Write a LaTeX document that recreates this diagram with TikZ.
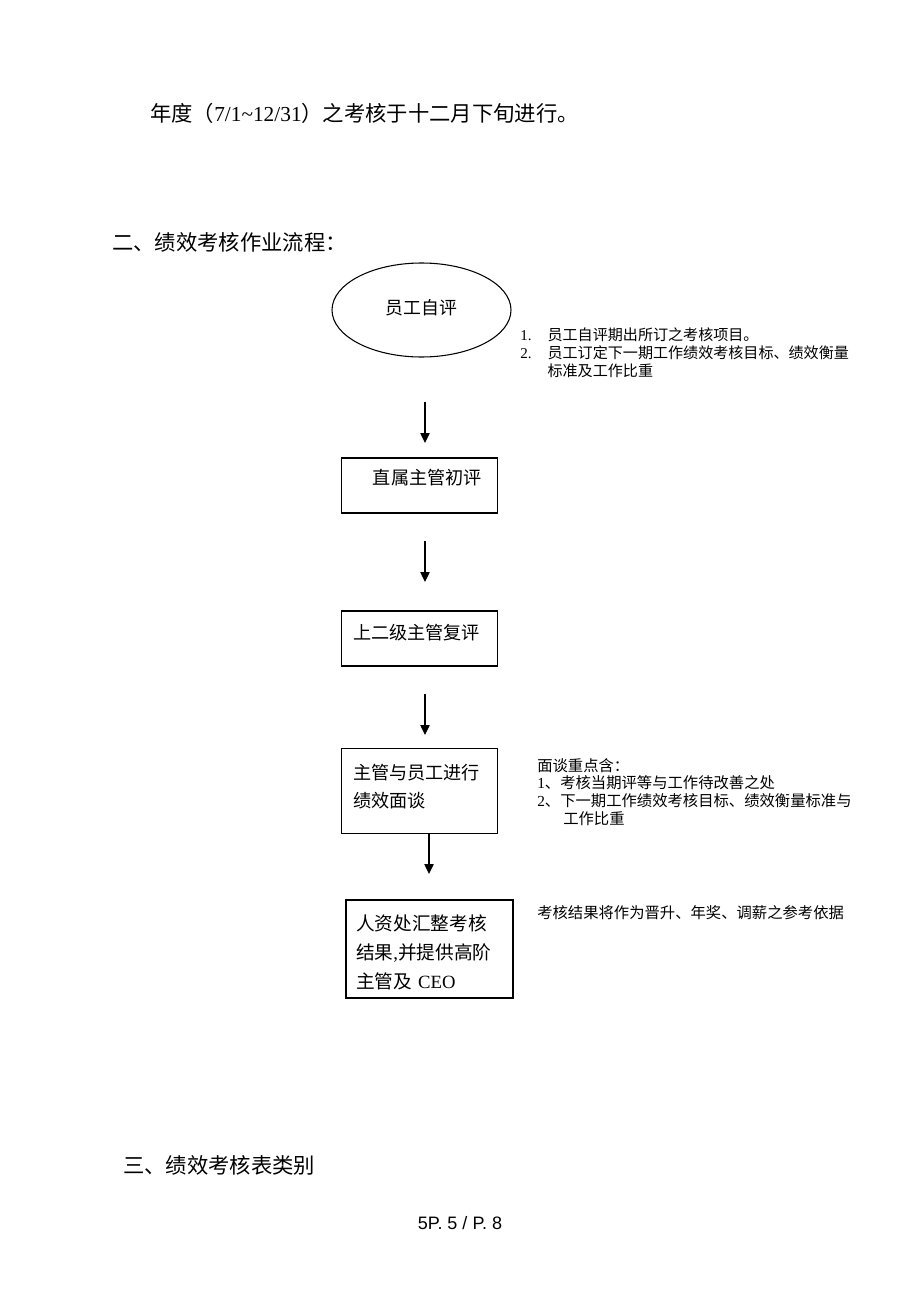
\documentclass[tikz,border=0pt]{standalone}
\usepackage{fontspec}
\setmainfont{Liberation Serif}
\newfontfamily\cjk{Noto Sans CJK SC}
\newfontfamily\pagefont{Liberation Sans}
\usetikzlibrary{shapes.geometric,arrows.meta}
\tikzset{
  box/.style={draw, line width=0.85pt, align=left, inner ysep=0pt, inner xsep=8.5pt,
    text width=99.5pt, minimum height=41.25pt, font=\cjk\fontsize{13.6}{21}\selectfont},
  note/.style={anchor=north west, inner sep=0pt, align=left, font=\cjk\fontsize{11.5}{13.3}\selectfont},
  head/.style={anchor=west, inner sep=0pt, font=\cjk\fontsize{16}{18}\selectfont},
  arr/.style={->, line width=1pt}
}
\begin{document}
\begin{tikzpicture}[x=0.75pt, y=-0.75pt, >={Triangle[width=7pt,length=7.5pt]}]
  \useasboundingbox (0,0) rectangle (920,1302);
  \def\ax{425}
  % headings
  \node[head] (h1) at (150,113) {年度（{\rmfamily 7/1\textasciitilde 12/31}）之考核于十二月下旬进行。};
  \node[head] (h2) at (112,242) {二、绩效考核作业流程：};
  \node[head] (h3) at (123,1165) {三、绩效考核表类别};
  \node[inner sep=0pt, font=\pagefont\fontsize{13.5}{16}\selectfont] (pg) at (460,1223) {5P. 5 / P. 8};
  % flow
  \node[ellipse, draw, line width=0.8pt, inner sep=0pt, minimum width=134.25pt, minimum height=70.5pt,
    text depth=4.5pt, font=\cjk\fontsize{13.4}{16}\selectfont] (e1) at (421.5,310) {员工自评};
  \node[box, text depth=12.8pt] (b2) at (419.5,485.5) {\hspace*{14.8pt}直属主管初评};
  \node[box, text depth=9.8pt] (b3) at (419.5,638.5) {上二级主管复评};
  \node[box, minimum height=64pt] (b4) at (419.5,791) {主管与员工进行\\绩效面谈\rule[-7pt]{0pt}{0pt}};
  \node[box, text width=110.25pt, inner xsep=7.5pt, minimum height=73.5pt, font=\cjk\fontsize{14}{22}\selectfont]
    (b5) at (429.5,949) {\rule{0pt}{16.8pt}人资处汇整考核\\结果{\rmfamily ,}并提供高阶\\主管及{\rmfamily\ CEO}};
  \coordinate (s1) at (\ax,402); \coordinate (t1) at (\ax,443);
  \coordinate (s2) at (\ax,541); \coordinate (t2) at (\ax,582);
  \coordinate (s3) at (\ax,694); \coordinate (t3) at (\ax,735);
  \coordinate (t4) at (429,874);
  \draw[arr] (s1) -- (t1);
  \draw[arr] (s2) -- (t2);
  \draw[arr] (s3) -- (t3);
  \draw[arr] (b4.south -| t4) -- (t4);
  % notes
  \node[note, font=\cjk\fontsize{11.3}{13.5}\selectfont] (n1) at (520,327)
    {\makebox[20.5pt][l]{\rmfamily 1.}员工自评期出所订之考核项目。\\
     \makebox[20.5pt][l]{\rmfamily 2.}员工订定下一期工作绩效考核目标、绩效衡量\\
     \hspace*{20.5pt}标准及工作比重};
  \node[note] (n4) at (537,758)
    {面谈重点含：\\{\rmfamily 1}、考核当期评等与工作待改善之处\\{\rmfamily 2}、下一期工作绩效考核目标、绩效衡量标准与\\\hspace*{19.5pt}工作比重};
  \node[note] (n5) at (537,905) {考核结果将作为晋升、年奖、调薪之参考依据};
\end{tikzpicture}
\end{document}
